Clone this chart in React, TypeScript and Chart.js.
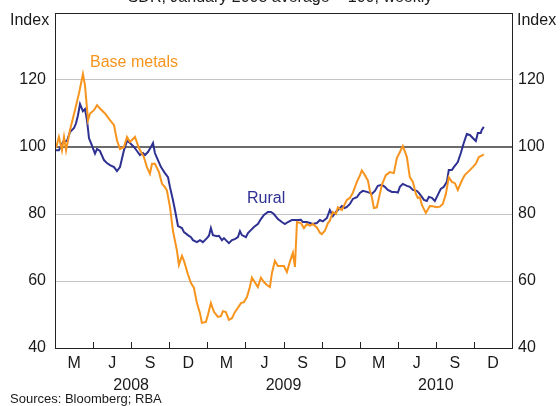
import React, { useEffect, useRef } from 'react';
import { Chart, registerables } from 'chart.js';

Chart.register(...registerables);

// x positions are months since the start of January 2008
const quarterLabels = ['M', 'J', 'S', 'D', 'M', 'J', 'S', 'D', 'M', 'J', 'S', 'D'];
const quarterCentres = [1.5, 4.5, 7.5, 10.5, 13.5, 16.5, 19.5, 22.5, 25.5, 28.5, 31.5, 34.5];
const quarterBoundaries = [3, 6, 9, 12, 15, 18, 21, 24, 27, 30, 33];
const yearLabels = ['2008', '2009', '2010'];
const yearCentres = [6, 18, 30];
const yTicks = [40, 60, 80, 100, 120];

const baseMonths = [
  0.08, 0.31, 0.55, 0.71, 0.87, 1.18, 1.57, 1.89, 2.2, 2.36,
  2.6, 2.76, 3.07, 3.31, 3.54, 3.94, 4.33, 4.65, 4.88, 5.12,
  5.43, 5.67, 5.91, 6.3, 6.61, 7.0, 7.24, 7.48, 7.64, 7.87,
  8.19, 8.43, 8.66, 8.82, 9.06, 9.29, 9.61, 9.76, 10.0, 10.16,
  10.47, 10.71, 10.94, 11.18, 11.42, 11.57, 11.89, 12.05, 12.28, 12.52,
  12.83, 13.07, 13.23, 13.46, 13.7, 13.94, 14.17, 14.41, 14.65, 14.88,
  15.12, 15.35, 15.51, 15.75, 15.98, 16.22, 16.46, 16.69, 16.93, 17.09,
  17.32, 17.56, 17.87, 18.03, 18.27, 18.5, 18.74, 18.9, 19.06, 19.37,
  19.61, 19.84, 20.08, 20.31, 20.63, 20.87, 21.02, 21.26, 21.5, 21.65,
  21.89, 22.13, 22.28, 22.6, 22.99, 23.23, 23.46, 23.78, 24.02, 24.17,
  24.41, 24.65, 24.8, 24.96, 25.12, 25.35, 25.59, 25.75, 26.06, 26.38,
  26.69, 26.93, 27.17, 27.4, 27.72, 27.95, 28.19, 28.43, 28.58, 28.74,
  28.9, 29.21, 29.53, 29.76, 30.08, 30.31, 30.55, 30.79, 31.02, 31.26,
  31.5, 31.73, 32.05, 32.28, 32.52, 32.91, 33.15, 33.39, 33.62, 33.78,
];
const baseValues = [
  99.7, 103, 99, 103, 99, 105, 111, 116, 121.8, 118.5,
  108, 110, 111, 112.5, 111.5, 110, 108, 106.5, 102, 99.4,
  100, 103, 101.5, 103, 99.7, 97, 94, 92, 95, 95,
  92.5, 89, 88, 87, 82, 75, 69, 64.8, 67.5, 66,
  62, 59.4, 58, 53.4, 50.4, 47.5, 47.8, 49.9, 53.4, 50.8,
  49.3, 49.5, 51, 50.7, 48.4, 48.9, 50.7, 52, 53.4, 53.7,
  55.2, 58.2, 61, 59.6, 58.2, 61, 59.7, 58.8, 58.2, 62.4,
  66, 64.5, 64.5, 64.5, 62.7, 65.7, 68.4, 64.2, 77.6, 77.3,
  75.8, 77, 76.5, 77, 76, 74.4, 74, 75, 77.3, 78,
  80.6, 80, 82, 81.2, 84.2, 84.8, 86.3, 89.6, 91.5, 93,
  91.6, 90, 87, 85, 81.8, 82, 86, 88.7, 91.6, 92.5,
  92.2, 96.7, 98.5, 100.3, 97, 91, 89.6, 86, 84.8, 85,
  82.7, 80.3, 82.4, 82.3, 82, 82.2, 83, 86, 91, 89.6,
  89.2, 87.2, 90, 91.6, 92.5, 94, 95, 97, 97.4, 97.8,
];

const ruralMonths = [
  0.08, 0.31, 0.63, 0.94, 1.18, 1.5, 1.65, 1.81, 1.97, 2.2,
  2.36, 2.52, 2.68, 2.83, 3.15, 3.31, 3.54, 3.86, 4.09, 4.33,
  4.65, 4.88, 5.12, 5.43, 5.67, 5.91, 6.22, 6.46, 6.69, 6.93,
  7.09, 7.32, 7.56, 7.72, 7.87, 8.11, 8.35, 8.66, 8.9, 9.06,
  9.29, 9.45, 9.69, 10.0, 10.16, 10.47, 10.71, 10.87, 11.18, 11.42,
  11.65, 11.97, 12.13, 12.28, 12.44, 12.76, 12.91, 13.15, 13.31, 13.54,
  13.7, 13.94, 14.17, 14.41, 14.57, 14.72, 15.04, 15.2, 15.43, 15.67,
  15.98, 16.22, 16.46, 16.77, 17.01, 17.24, 17.56, 17.87, 18.11, 18.35,
  18.66, 18.9, 19.13, 19.37, 19.53, 19.84, 20.08, 20.31, 20.63, 20.87,
  21.1, 21.42, 21.65, 21.89, 22.13, 22.28, 22.6, 22.83, 22.99, 23.23,
  23.46, 23.78, 24.02, 24.25, 24.57, 24.8, 24.96, 25.2, 25.43, 25.75,
  25.98, 26.22, 26.54, 26.77, 27.01, 27.17, 27.4, 27.72, 27.95, 28.19,
  28.5, 28.66, 28.9, 29.06, 29.29, 29.45, 29.69, 29.92, 30.16, 30.39,
  30.63, 30.87, 31.02, 31.26, 31.42, 31.73, 31.97, 32.2, 32.44, 32.68,
  32.91, 33.15, 33.31, 33.54, 33.62, 33.78,
];
const ruralValues = [
  99, 99, 101.5, 101.8, 104.5, 105.7, 107, 109.5, 112.8, 110.7,
  111.3, 108, 102.6, 101.2, 98, 99.4, 98.8, 96.1, 95.2, 94.6,
  94, 92.8, 94, 99, 101.8, 101.2, 100, 98.8, 97.6, 98.2,
  97.6, 98.5, 100, 101.2, 98.2, 96.1, 94, 92.2, 91, 88,
  84.2, 81.2, 76.4, 75.8, 74.6, 73.7, 73.1, 72.2, 71.6, 72.2,
  71.6, 72.8, 73.5, 75.8, 73.7, 73.4, 73.5, 72.2, 72.8, 71.9,
  71.3, 72.2, 72.5, 73.1, 74.9, 73.7, 73.1, 74.3, 75.2, 76.1,
  77, 78.5, 79.7, 80.6, 80.6, 80, 78.5, 77.6, 77, 77.6,
  78.2, 78.2, 78.2, 78.3, 77.6, 77.6, 77.3, 77, 77.3, 78.2,
  77.8, 78.8, 81.2, 79.4, 80.6, 81.2, 82.4, 81.8, 82.1, 83,
  84.5, 85, 86.3, 86.9, 86.6, 86.3, 86, 86.9, 88.4, 88.7,
  88.1, 87.2, 86.6, 86.6, 86.4, 88.1, 89, 88.4, 88.1, 87.2,
  86.9, 86.3, 85.1, 84.2, 83.9, 85.1, 84.8, 83.9, 85.7, 87.5,
  88.1, 89.6, 93.1, 93.1, 94, 95.5, 98.2, 101.2, 103.9, 103.6,
  102.7, 101.8, 104.2, 104.2, 105.1, 106,
];

const ORANGE = '#f7941d';
const NAVY = '#2e3192';
const TEXT = '#1a1a1a';
const FONT = 'Arial, "Liberation Sans", sans-serif';

const decorPlugin = {
  id: 'decor',
  afterDraw(chart: any) {
    const { ctx, chartArea: a, scales } = chart;
    const x = scales.x;
    ctx.save();
    // frame
    ctx.strokeStyle = '#222';
    ctx.lineWidth = 1;
    ctx.strokeRect(Math.round(a.left) + 0.5, Math.round(a.top) + 0.5, Math.round(a.right - a.left), Math.round(a.bottom - a.top));
    // quarter tick marks
    ctx.beginPath();
    quarterBoundaries.forEach((m) => {
      const px = Math.round(x.getPixelForValue(m)) + 0.5;
      ctx.moveTo(px, a.bottom);
      ctx.lineTo(px, a.bottom - 6);
    });
    ctx.stroke();
    // year labels
    ctx.fillStyle = TEXT;
    ctx.font = `16px ${FONT}`;
    ctx.textAlign = 'center';
    ctx.textBaseline = 'middle';
    yearLabels.forEach((lab, i) => {
      ctx.fillText(lab, x.getPixelForValue(yearCentres[i]), a.bottom + 38);
    });
    // Index labels
    ctx.textAlign = 'left';
    ctx.fillText('Index', 10, 21);
    ctx.fillText('Index', 517, 21);
    // title (partly off the top)
    ctx.textAlign = 'center';
    ctx.textBaseline = 'alphabetic';
    ctx.fillText('SDR, January 2008 average = 100, weekly', 280, 2);
    // sources
    ctx.textAlign = 'left';
    ctx.font = `13px ${FONT}`;
    ctx.fillText('Sources: Bloomberg; RBA', 10, 403);
    // series labels
    ctx.font = `16px ${FONT}`;
    ctx.textBaseline = 'middle';
    ctx.fillStyle = ORANGE;
    ctx.fillText('Base metals', 90, 63);
    ctx.fillStyle = NAVY;
    ctx.fillText('Rural', 247, 199);
    ctx.restore();
  },
};

export default function App() {
  const ref = useRef<HTMLCanvasElement | null>(null);
  useEffect(() => {
    document.body.style.margin = '0';
    const canvas = ref.current!;
    const yScaleCommon = {
      min: 40,
      max: 140,
      afterBuildTicks: (s: any) => {
        s.ticks = yTicks.map((v) => ({ value: v }));
      },
      border: { display: false },
      ticks: {
        color: TEXT,
        font: { size: 16, family: FONT },
      },
    };
    const chart = new Chart(canvas, {
      type: 'line',
      data: {
        datasets: [
          {
            label: 'Base metals',
            data: baseMonths.map((m, i) => ({ x: m, y: baseValues[i] })),
            borderColor: ORANGE,
            borderWidth: 2,
            pointRadius: 0,
            tension: 0,
          },
          {
            label: 'Rural',
            data: ruralMonths.map((m, i) => ({ x: m, y: ruralValues[i] })),
            borderColor: NAVY,
            borderWidth: 2,
            pointRadius: 0,
            tension: 0,
          },
        ],
      },
      options: {
        responsive: false,
        animation: false,
        devicePixelRatio: 1,
        layout: { padding: { top: 13, left: 0, right: 0, bottom: 0 } },
        plugins: { legend: { display: false }, tooltip: { enabled: false } },
        scales: {
          x: {
            type: 'linear',
            min: 0,
            max: 36,
            afterBuildTicks: (s: any) => {
              s.ticks = quarterCentres.map((v) => ({ value: v }));
            },
            afterFit: (s: any) => {
              s.height = 58;
              s.paddingLeft = 0;
              s.paddingRight = 0;
            },
            grid: { display: false, drawTicks: false },
            border: { display: false },
            ticks: {
              color: TEXT,
              font: { size: 16, family: FONT },
              padding: 6,
              maxRotation: 0,
              autoSkip: false,
              callback: (_v: any, i: number) => quarterLabels[i],
            },
          },
          y: {
            ...yScaleCommon,
            position: 'left',
            afterFit: (s: any) => {
              s.width = 55;
              s.paddingTop = 0;
              s.paddingBottom = 0;
            },
            grid: {
              drawTicks: false,
              color: (c: any) =>
                c.tick && c.tick.value === 100 ? '#6b6b6b' : c.tick && c.tick.value === 40 ? 'rgba(0,0,0,0)' : '#c4c4c4',
              lineWidth: (c: any) => (c.tick && c.tick.value === 100 ? 2 : 1),
            },
            ticks: { ...yScaleCommon.ticks, padding: 9 },
          },
          y2: {
            ...yScaleCommon,
            position: 'right',
            afterFit: (s: any) => {
              s.width = 48;
              s.paddingTop = 0;
              s.paddingBottom = 0;
            },
            grid: { display: false, drawTicks: false },
            ticks: { ...yScaleCommon.ticks, padding: 6 },
          },
        },
      } as any,
      plugins: [decorPlugin],
    });
    return () => chart.destroy();
  }, []);
  return (
    <div style={{ position: 'fixed', left: 0, top: 0, width: 560, height: 406, background: '#fff' }}>
      <canvas ref={ref} width={560} height={406} style={{ display: 'block' }} />
    </div>
  );
}
